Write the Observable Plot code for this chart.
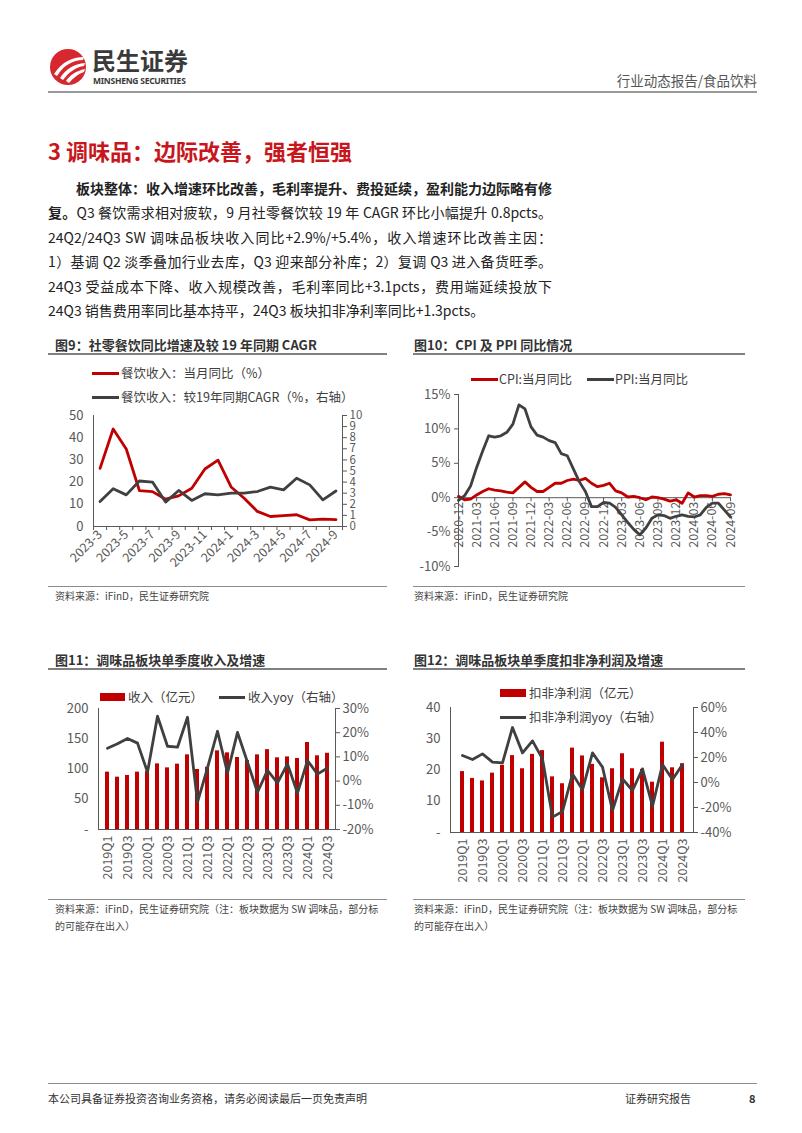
<!DOCTYPE html>
<html><head><meta charset="utf-8">
<script src="https://cdn.jsdelivr.net/npm/d3@7"></script>
<script src="https://cdn.jsdelivr.net/npm/@observablehq/plot@0.6"></script>
<style>
body{margin:0;width:802px;height:1133px;position:relative;background:#fff;font-family:"Noto Sans CJK SC","Noto Sans",sans-serif;overflow:hidden;color:#222}
.abs{position:absolute;white-space:nowrap}
.body{left:48px;width:504px;height:24px;line-height:24px;font-size:14px;text-align:justify;text-align-last:justify;color:#222}
.ctitle{font-size:13px;font-weight:bold;color:#333;line-height:18px}
.rule{position:absolute;height:0;border-top:2px solid #808080}
.srule{position:absolute;height:0;border-top:1px solid #8c8c8c}
.src{font-size:10px;color:#444;line-height:17px}
.leg{font-size:12.5px;color:#404040;line-height:16px}
.lline{position:absolute;height:3px}
.lrect{position:absolute;height:8px;background:#C00000}
</style></head><body>

<!-- header -->
<svg class="abs" style="left:48px;top:47px" width="42" height="42" viewBox="0 0 42 42">
  <circle cx="20" cy="20" r="18" fill="#D7282F"/>
  <path d="M6 27 C14 15, 24 10, 36 10 L35 13 C25 13, 16 18, 9 29 Z" fill="#fff"/>
  <path d="M12 31 C18 22, 26 17, 37 16 L36 19 C28 20, 21 25, 15 33 Z" fill="#fff"/>
  <path d="M18 34 C22 28, 28 24, 37 22 L36 25 C30 27, 25 31, 21 36 Z" fill="#fff"/>
</svg>
<div class="abs" style="left:92px;top:45px;font-size:24px;font-weight:bold;color:#3a3a3a;line-height:30px">民生证券</div>
<div class="abs" style="left:93px;top:74px;width:98px;font-size:8.5px;font-weight:bold;color:#3a3a3a;line-height:13px;font-family:'Noto Sans',sans-serif;letter-spacing:-0.25px">MINSHENG SECURITIES</div>
<div class="abs" style="right:45px;top:70px;font-size:13.5px;color:#555;line-height:20px">行业动态报告/食品饮料</div>
<div class="rule" style="left:48px;width:709px;top:91px;border-top-color:#999"></div>

<div class="abs" style="left:48px;top:136px;font-size:22px;font-weight:bold;color:#C8161D;line-height:28px">3 调味品：边际改善，强者恒强</div>

<div class="abs body" style="top:176px;text-indent:28px;font-weight:bold">板块整体：收入增速环比改善，毛利率提升、费投延续，盈利能力边际略有修</div>
<div class="abs body" style="top:200px"><b>复。</b>Q3 餐饮需求相对疲软，9 月社零餐饮较 19 年 CAGR 环比小幅提升 0.8pcts。</div>
<div class="abs body" style="top:225px">24Q2/24Q3 SW 调味品板块收入同比+2.9%/+5.4%，收入增速环比改善主因：</div>
<div class="abs body" style="top:249px">1）基调 Q2 淡季叠加行业去库，Q3 迎来部分补库；2）复调 Q3 进入备货旺季。</div>
<div class="abs body" style="top:274px">24Q3 受益成本下降、收入规模改善，毛利率同比+3.1pcts，费用端延续投放下</div>
<div class="abs body" style="top:298px;text-align-last:left">24Q3 销售费用率同比基本持平，24Q3 板块扣非净利率同比+1.3pcts。</div>

<!-- chart 9 -->
<div class="abs ctitle" style="left:55px;top:336px">图9：社零餐饮同比增速及较 19 年同期 CAGR</div>
<div class="rule" style="left:48px;width:339px;top:353px"></div>
<div class="lline" style="left:92px;width:27px;top:372px;background:#C00000"></div>
<div class="abs leg" style="left:121px;top:365px">餐饮收入：当月同比（%）</div>
<div class="lline" style="left:92px;width:27px;top:396px;background:#404040"></div>
<div class="abs leg" style="left:121px;top:389px">餐饮收入：较19年同期CAGR（%，右轴）</div>
<div class="abs" id="c9" style="left:46px;top:405px"></div>
<div class="srule" style="left:48px;width:339px;top:586px"></div>
<div class="abs src" style="left:55px;top:587px">资料来源：iFinD，民生证券研究院</div>

<!-- chart 10 -->
<div class="abs ctitle" style="left:414px;top:336px">图10：CPI 及 PPI 同比情况</div>
<div class="rule" style="left:413px;width:332px;top:353px"></div>
<div class="lline" style="left:471px;width:27px;top:378px;background:#C00000"></div>
<div class="abs leg" style="left:499px;top:371px">CPI:当月同比</div>
<div class="lline" style="left:587px;width:27px;top:378px;background:#404040"></div>
<div class="abs leg" style="left:615px;top:371px">PPI:当月同比</div>
<div class="abs" id="c10" style="left:413px;top:385px"></div>
<div class="srule" style="left:413px;width:332px;top:586px"></div>
<div class="abs src" style="left:414px;top:587px">资料来源：iFinD，民生证券研究院</div>

<!-- chart 11 -->
<div class="abs ctitle" style="left:55px;top:651px">图11：调味品板块单季度收入及增速</div>
<div class="rule" style="left:48px;width:339px;top:668px"></div>
<div class="lrect" style="left:100px;width:25px;top:693px"></div>
<div class="abs leg" style="left:128px;top:689px">收入（亿元）</div>
<div class="lline" style="left:219px;width:26px;top:696px;background:#404040"></div>
<div class="abs leg" style="left:248px;top:689px">收入yoy（右轴）</div>
<div class="abs" id="c11" style="left:46px;top:700px"></div>
<div class="srule" style="left:48px;width:339px;top:899px"></div>
<div class="abs src" style="left:55px;top:900px">资料来源：iFinD，民生证券研究院（注：板块数据为 SW 调味品，部分标</div>
<div class="abs src" style="left:55px;top:917px">的可能存在出入）</div>

<!-- chart 12 -->
<div class="abs ctitle" style="left:414px;top:651px">图12：调味品板块单季度扣非净利润及增速</div>
<div class="rule" style="left:413px;width:332px;top:668px"></div>
<div class="lrect" style="left:500px;width:26px;top:689px"></div>
<div class="abs leg" style="left:529px;top:685px">扣非净利润（亿元）</div>
<div class="lline" style="left:500px;width:26px;top:716px;background:#404040"></div>
<div class="abs leg" style="left:529px;top:709px">扣非净利润yoy（右轴）</div>
<div class="abs" id="c12" style="left:413px;top:700px"></div>
<div class="srule" style="left:413px;width:332px;top:899px"></div>
<div class="abs src" style="left:414px;top:900px">资料来源：iFinD，民生证券研究院（注：板块数据为 SW 调味品，部分标</div>
<div class="abs src" style="left:414px;top:917px">的可能存在出入）</div>

<!-- footer -->
<div class="srule" style="left:48px;width:709px;top:1083px"></div>
<div class="abs" style="left:48px;top:1090px;font-size:11px;color:#333;line-height:16px">本公司具备证券投资咨询业务资格，请务必阅读最后一页免责声明</div>
<div class="abs" style="left:625px;top:1090px;font-size:11px;color:#333;line-height:16px">证券研究报告</div>
<div class="abs" style="left:749px;top:1090px;font-size:11px;color:#333;font-weight:bold;line-height:16px">8</div>

<script>
// ---------- data ----------
const months9 = ["2023-3","2023-4","2023-5","2023-6","2023-7","2023-8","2023-9","2023-10","2023-11","2023-12","2024-1","2024-2","2024-3","2024-4","2024-5","2024-6","2024-7","2024-8","2024-9"];
const cateringYoy = [26.2,43.9,34.9,16.2,15.7,12.3,13.8,17.2,25.9,29.9,17.8,12.7,6.8,4.5,4.9,5.3,3.0,3.3,3.1];
const cateringCagr = [2.25,3.4,2.85,4.1,4.0,2.2,3.25,2.35,2.95,2.85,3.0,3.0,3.15,3.55,3.3,4.35,3.75,2.4,3.2];

const months10 = ["2020-12","2021-01","2021-02","2021-03","2021-04","2021-05","2021-06","2021-07","2021-08","2021-09","2021-10","2021-11","2021-12",
  "2022-01","2022-02","2022-03","2022-04","2022-05","2022-06","2022-07","2022-08","2022-09","2022-10","2022-11","2022-12",
  "2023-01","2023-02","2023-03","2023-04","2023-05","2023-06","2023-07","2023-08","2023-09","2023-10","2023-11","2023-12",
  "2024-01","2024-02","2024-03","2024-04","2024-05","2024-06","2024-07","2024-08","2024-09"];
const cpi = [0.2,-0.3,-0.2,0.4,0.9,1.3,1.1,1.0,0.8,0.7,1.5,2.3,1.5,0.9,0.9,1.5,2.1,2.1,2.5,2.7,2.5,2.8,2.1,1.6,1.8,2.1,1.0,0.7,0.1,0.2,0.0,-0.3,0.1,0.0,-0.2,-0.5,-0.3,-0.8,0.7,0.1,0.3,0.3,0.2,0.5,0.6,0.4];
const ppi = [-0.4,0.3,1.7,4.4,6.8,9.0,8.8,9.0,9.5,10.7,13.5,12.9,10.3,9.1,8.8,8.3,8.0,6.4,6.1,4.2,2.3,0.9,-1.3,-1.3,-0.7,-0.8,-1.4,-2.5,-3.6,-4.6,-5.4,-4.4,-3.0,-2.5,-2.6,-3.0,-2.7,-2.5,-2.7,-2.8,-2.5,-1.4,-0.8,-0.8,-1.8,-2.8];
const labels10 = ["2020-12","2021-03","2021-06","2021-09","2021-12","2022-03","2022-06","2022-09","2022-12","2023-03","2023-06","2023-09","2023-12","2024-03","2024-06","2024-09"];

const quarters = ["2019Q1","2019Q2","2019Q3","2019Q4","2020Q1","2020Q2","2020Q3","2020Q4","2021Q1","2021Q2","2021Q3","2021Q4","2022Q1","2022Q2","2022Q3","2022Q4","2023Q1","2023Q2","2023Q3","2023Q4","2024Q1","2024Q2","2024Q3"];
const revenue = [94.8,86.5,89.3,94.8,96,108.5,101.9,108,123.4,99.2,103,130,126.7,119,114,123.4,132,118.5,120,117.4,143.8,121.8,126];
const revenueYoy = [13.6,15.4,17.6,15.7,3.7,26.8,14.4,14.0,26.4,-8.7,5.5,20.6,3.4,20.1,7.8,-4.6,4.4,-0.7,7.1,-5.0,8.5,2.9,5.4];
const profit = [19.5,17.3,16.5,19.0,21.5,24.6,20.4,25.0,26.2,17.8,15.6,27.0,24.5,21.8,17.5,20.4,25.2,20.4,20.2,16.1,28.9,20.7,22.0];
const profitYoy = [21.6,18.4,22.9,16.3,15.7,44.0,23.7,33.3,18.9,-27.7,-23.2,6.9,-5.9,23.7,12.3,-22.4,2.9,-6.4,10.9,-18.9,14.4,2.4,14.4];

// ---------- style ----------
const RED = "#C00000", GRAY = "#404040", AX = "#595959";
const FONT = "'Noto Sans CJK SC','Noto Sans',sans-serif";
const baseStyle = {fontFamily: FONT, fontSize: "12px", color: AX, background: "transparent", overflow: "visible"};
const SW = 2.8;

// ---------- chart 9 ----------
const d9 = months9.map((m, i) => ({i, m, yoy: cateringYoy[i], cagr: cateringCagr[i]}));
document.getElementById("c9").append(Plot.plot({
  width: 341, height: 180, marginLeft: 47, marginRight: 45, marginTop: 10, marginBottom: 59,
  style: baseStyle,
  x: {type: "linear", domain: [-0.5, months9.length - 0.5]},
  y: {domain: [0, 50], label: null},
  marks: [
    Plot.axisY({anchor: "left", ticks: d3.range(0, 51, 10), tickSize: 0, tickPadding: 10, label: null, fontSize: 13}),
    Plot.axisY({anchor: "right", ticks: d3.range(0, 51, 5), tickSize: 4, tickPadding: 3, tickFormat: v => v / 5, label: null, fontSize: 11.5}),
    Plot.axisX({ticks: d3.range(0, months9.length, 2), tickFormat: i => months9[i], tickRotate: -45, tickSize: 0, tickPadding: 6, label: null, fontSize: 12.5}),
    Plot.axisX({ticks: d3.range(-0.5, months9.length, 1), tickFormat: () => "", tickSize: 4, label: null}),
    Plot.frame({anchor: "left", stroke: AX}),
    Plot.frame({anchor: "right", stroke: AX}),
    Plot.ruleY([0], {stroke: AX}),
    Plot.line(d9, {x: "i", y: "yoy", stroke: RED, strokeWidth: SW}),
    Plot.line(d9, {x: "i", y: d => d.cagr * 5, stroke: GRAY, strokeWidth: SW})
  ]
}));

// ---------- chart 10 ----------
const d10 = months10.map((m, i) => ({i, m, cpi: cpi[i], ppi: ppi[i]}));
const idx10 = labels10.map(l => months10.indexOf(l));
document.getElementById("c10").append(Plot.plot({
  width: 335, height: 190, marginLeft: 45, marginRight: 18, marginTop: 9, marginBottom: 9,
  style: baseStyle,
  x: {type: "linear", domain: [0, months10.length - 1], axis: null},
  y: {domain: [-10, 15], label: null},
  marks: [
    Plot.axisY({anchor: "left", ticks: d3.range(-10, 16, 5), tickSize: 4, tickPadding: 4, tickFormat: v => v + "%", label: null, fontSize: 13}),
    Plot.frame({anchor: "left", stroke: AX}),
    Plot.ruleY([0], {stroke: AX}),
    Plot.ruleX(idx10, {x: d => d, y1: 0, y2: -0.6, stroke: AX}),
    Plot.text(idx10, {x: d => d, y: 0, text: d => months10[d], rotate: -90, textAnchor: "end", dy: 4, fill: AX, fontSize: 12.5}),
    Plot.line(d10, {x: "i", y: "cpi", stroke: RED, strokeWidth: SW}),
    Plot.line(d10, {x: "i", y: "ppi", stroke: GRAY, strokeWidth: SW})
  ]
}));

// ---------- chart 11 ----------
const d11 = quarters.map((q, i) => ({q, i, v: revenue[i], yoy: revenueYoy[i]}));
const qLabels = quarters.filter((q, i) => i % 2 === 0);
document.getElementById("c11").append(Plot.plot({
  width: 341, height: 190, marginLeft: 52, marginRight: 52, marginTop: 8, marginBottom: 61,
  style: baseStyle,
  x: {type: "band", domain: quarters, padding: 0.6, label: null},
  y: {domain: [0, 200], label: null},
  marks: [
    Plot.axisY({anchor: "left", ticks: d3.range(0, 201, 50), tickSize: 0, tickPadding: 10, tickFormat: v => v === 0 ? "-" : v, label: null, fontSize: 13}),
    Plot.axisY({anchor: "right", ticks: d3.range(0, 201, 40), tickSize: 4, tickPadding: 3, tickFormat: v => (v / 4 - 20) + "%", label: null, fontSize: 13}),
    Plot.axisX({ticks: qLabels, tickRotate: -90, tickSize: 0, tickPadding: 6, label: null, fontSize: 12.5}),
    Plot.barY(d11, {x: "q", y: "v", fill: RED}),
    Plot.frame({anchor: "left", stroke: AX}),
    Plot.frame({anchor: "right", stroke: AX}),
    Plot.ruleY([0], {stroke: AX}),
    Plot.line(d11, {x: "q", y: d => (d.yoy + 20) * 4, stroke: GRAY, strokeWidth: SW})
  ]
}));

// ---------- chart 12 ----------
const d12 = quarters.map((q, i) => ({q, i, v: profit[i], yoy: profitYoy[i]}));
document.getElementById("c12").append(Plot.plot({
  width: 335, height: 190, marginLeft: 37, marginRight: 55, marginTop: 7, marginBottom: 58,
  style: baseStyle,
  x: {type: "band", domain: quarters, padding: 0.6, label: null},
  y: {domain: [0, 40], label: null},
  marks: [
    Plot.axisY({anchor: "left", ticks: d3.range(0, 41, 10), tickSize: 0, tickPadding: 10, tickFormat: v => v === 0 ? "-" : v, label: null, fontSize: 13}),
    Plot.axisY({anchor: "right", ticks: d3.range(0, 41, 8), tickSize: 4, tickPadding: 3, tickFormat: v => Math.round(v / 0.4 - 40) + "%", label: null, fontSize: 13}),
    Plot.axisX({ticks: qLabels, tickRotate: -90, tickSize: 0, tickPadding: 6, label: null, fontSize: 12.5}),
    Plot.barY(d12, {x: "q", y: "v", fill: RED}),
    Plot.frame({anchor: "left", stroke: AX}),
    Plot.frame({anchor: "right", stroke: AX}),
    Plot.ruleY([0], {stroke: AX}),
    Plot.line(d12, {x: "q", y: d => (d.yoy + 40) * 0.4, stroke: GRAY, strokeWidth: SW})
  ]
}));
</script>
</body></html>
